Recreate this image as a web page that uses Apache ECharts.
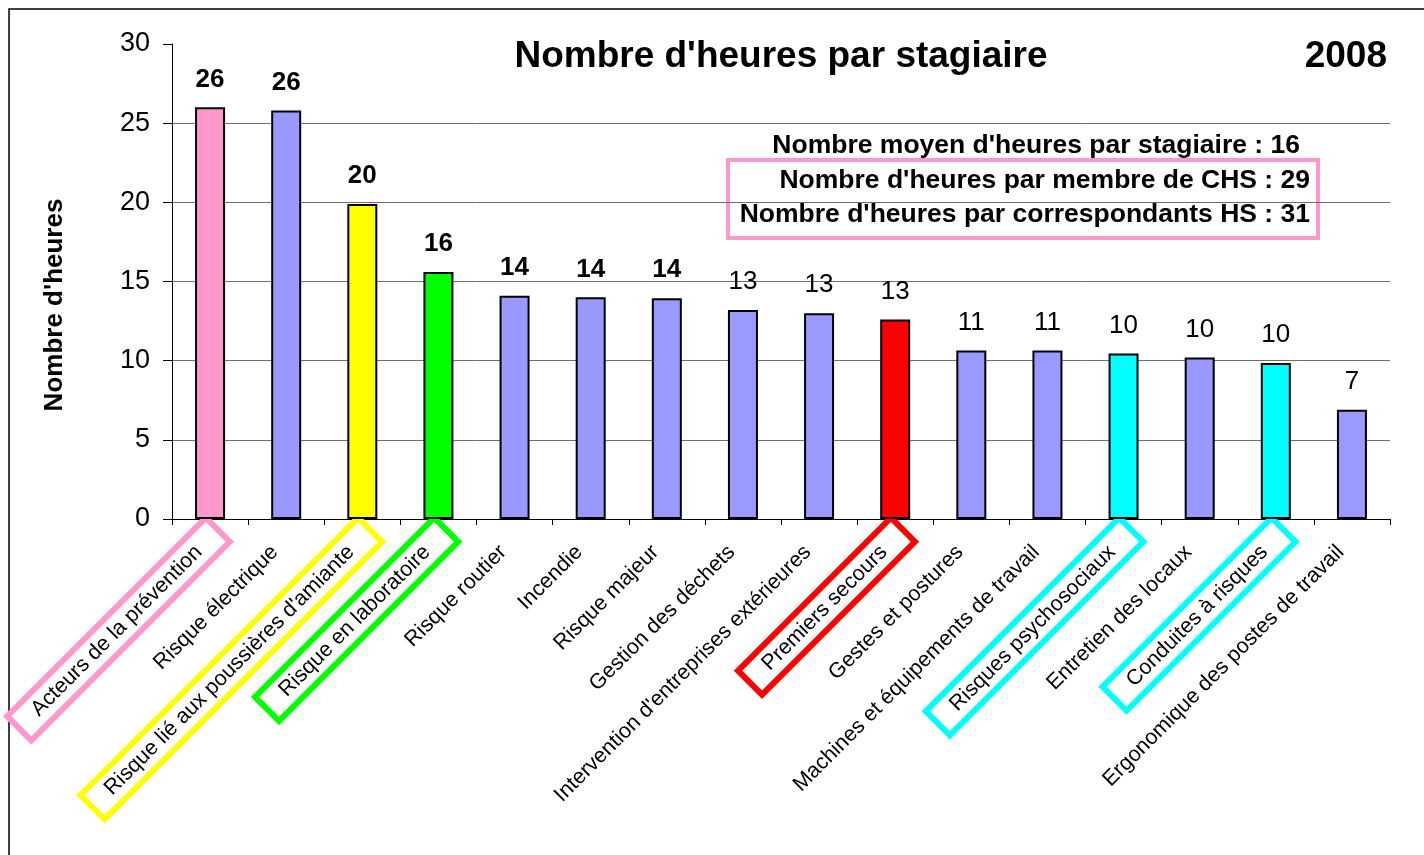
<!DOCTYPE html>
<html>
<head>
<meta charset="utf-8">
<script src="https://cdn.jsdelivr.net/npm/echarts@6/dist/echarts.min.js"></script>
<style>
html,body{margin:0;padding:0;background:#fff;}
#c{width:1424px;height:855px;}
</style>
</head>
<body>
<div id="c"></div>
<script>
// ---- data ----
const categories = [
  "Acteurs de la prévention",
  "Risque électrique",
  "Risque lié aux poussières d'amiante",
  "Risque en laboratoire",
  "Risque routier",
  "Incendie",
  "Risque majeur",
  "Gestion des déchets",
  "Intervention d'entreprises extérieures",
  "Premiers secours",
  "Gestes et postures",
  "Machines et équipements de travail",
  "Risques psychosociaux",
  "Entretien des locaux",
  "Conduites à risques",
  "Ergonomique des postes de travail"
];
const hours = [26.0, 25.8, 19.9, 15.6, 14.1, 14.0, 13.95, 13.2, 13.0, 12.6, 10.65, 10.65, 10.45, 10.2, 9.85, 6.9];
const barColors = ["#FF99CC","#9999FF","#FFFF00","#00FF00","#9999FF","#9999FF","#9999FF","#9999FF","#9999FF","#FF0000","#9999FF","#9999FF","#00FFFF","#9999FF","#00FFFF","#9999FF"];
const boldLabel = [true,true,true,true,true,true,true,false,false,false,false,false,false,false,false,false];
const boxColors = ["#FF99CC",null,"#FFFF00","#00FF00",null,null,null,null,null,"#FF0000",null,null,"#00FFFF",null,"#00FFFF",null];
const yTicks = [0, 5, 10, 15, 20, 25, 30];
const titleText = "Nombre d'heures par stagiaire";
const yearText = "2008";
const yAxisTitle = "Nombre d'heures";
const infoLines = [
  "Nombre moyen d'heures par stagiaire : 16",
  "Nombre d'heures par membre de CHS : 29",
  "Nombre d'heures par correspondants HS : 31"
];

// ---- chart ----
const FONT = "'Liberation Sans', Arial, sans-serif";
const rich = {};
const boxKey = boxColors.map((c, i) => 'k' + i);
boxColors.forEach((c, i) => {
  rich['k' + i] = {
    fontSize: 21.5,
    fontFamily: FONT,
    color: '#000',
    lineHeight: 22,
    padding: [6, 27, 6, 22],
    borderWidth: 6,
    borderColor: c || 'rgba(0,0,0,0)'
  };
});

const chart = echarts.init(document.getElementById('c'));
chart.setOption({
  animation: false,
  backgroundColor: '#fff',
  grid: {left: 172, top: 44, right: 34, bottom: 336, containLabel: false, outerBoundsMode: 'none'},
  xAxis: {
    type: 'category',
    data: categories,
    axisLine: {lineStyle: {color: '#000', width: 1}},
    axisTick: {show: true, length: 6, lineStyle: {color: '#000'}},
    axisLabel: {
      interval: 0,
      rotate: 45,
      align: 'right',
      verticalAlign: 'top',
      margin: 3,
      formatter: (v, i) => '{' + boxKey[i] + '|' + v + '}',
      rich: rich
    }
  },
  yAxis: {
    type: 'value',
    min: yTicks[0],
    max: yTicks[yTicks.length - 1],
    interval: yTicks[1] - yTicks[0],
    axisLine: {show: true, lineStyle: {color: '#000', width: 1}},
    axisTick: {show: true, length: 9, lineStyle: {color: '#000'}},
    axisLabel: {fontSize: 27, fontFamily: FONT, color: '#000', margin: 22},
    splitLine: {show: true, showMaxLine: false, lineStyle: {color: '#6e6e6e', width: 1}}
  },
  series: [{
    type: 'bar',
    barWidth: 30,
    data: hours.map((v, i) => ({
      value: v,
      itemStyle: {color: barColors[i], borderColor: '#000', borderWidth: 2},
      label: {fontWeight: boldLabel[i] ? 'bold' : 'normal'}
    })),
    label: {
      show: true,
      position: 'top',
      distance: 15,
      fontSize: 26,
      fontFamily: FONT,
      color: '#000',
      formatter: p => String(Math.round(p.value))
    }
  }],
  graphic: [
    {type: 'rect', shape: {x: 9, y: 9, width: 1430, height: 870}, style: {fill: 'none', stroke: '#000', lineWidth: 1.5}, silent: true},
    {type: 'text', x: 781, y: 57, style: {text: titleText, font: "bold 37px " + FONT, fill: '#000', textAlign: 'center', textVerticalAlign: 'middle'}},
    {type: 'text', x: 1387, y: 57, style: {text: yearText, font: "bold 37px " + FONT, fill: '#000', textAlign: 'right', textVerticalAlign: 'middle'}},
    {type: 'text', x: 55, y: 305, rotation: Math.PI / 2, style: {text: yAxisTitle, font: "bold 26px " + FONT, fill: '#000', textAlign: 'center', textVerticalAlign: 'middle'}},
    {type: 'rect', shape: {x: 728, y: 160, width: 590, height: 78}, style: {fill: '#fff', stroke: '#FF99CC', lineWidth: 4}},
    {type: 'text', x: 1300, y: 146, style: {text: infoLines[0], font: "bold 26.5px " + FONT, fill: '#000', textAlign: 'right', textVerticalAlign: 'middle'}},
    {type: 'text', x: 1310, y: 181, style: {text: infoLines[1], font: "bold 26.5px " + FONT, fill: '#000', textAlign: 'right', textVerticalAlign: 'middle'}},
    {type: 'text', x: 1310, y: 215, style: {text: infoLines[2], font: "bold 26.5px " + FONT, fill: '#000', textAlign: 'right', textVerticalAlign: 'middle'}}
  ]
});
</script>
</body>
</html>
